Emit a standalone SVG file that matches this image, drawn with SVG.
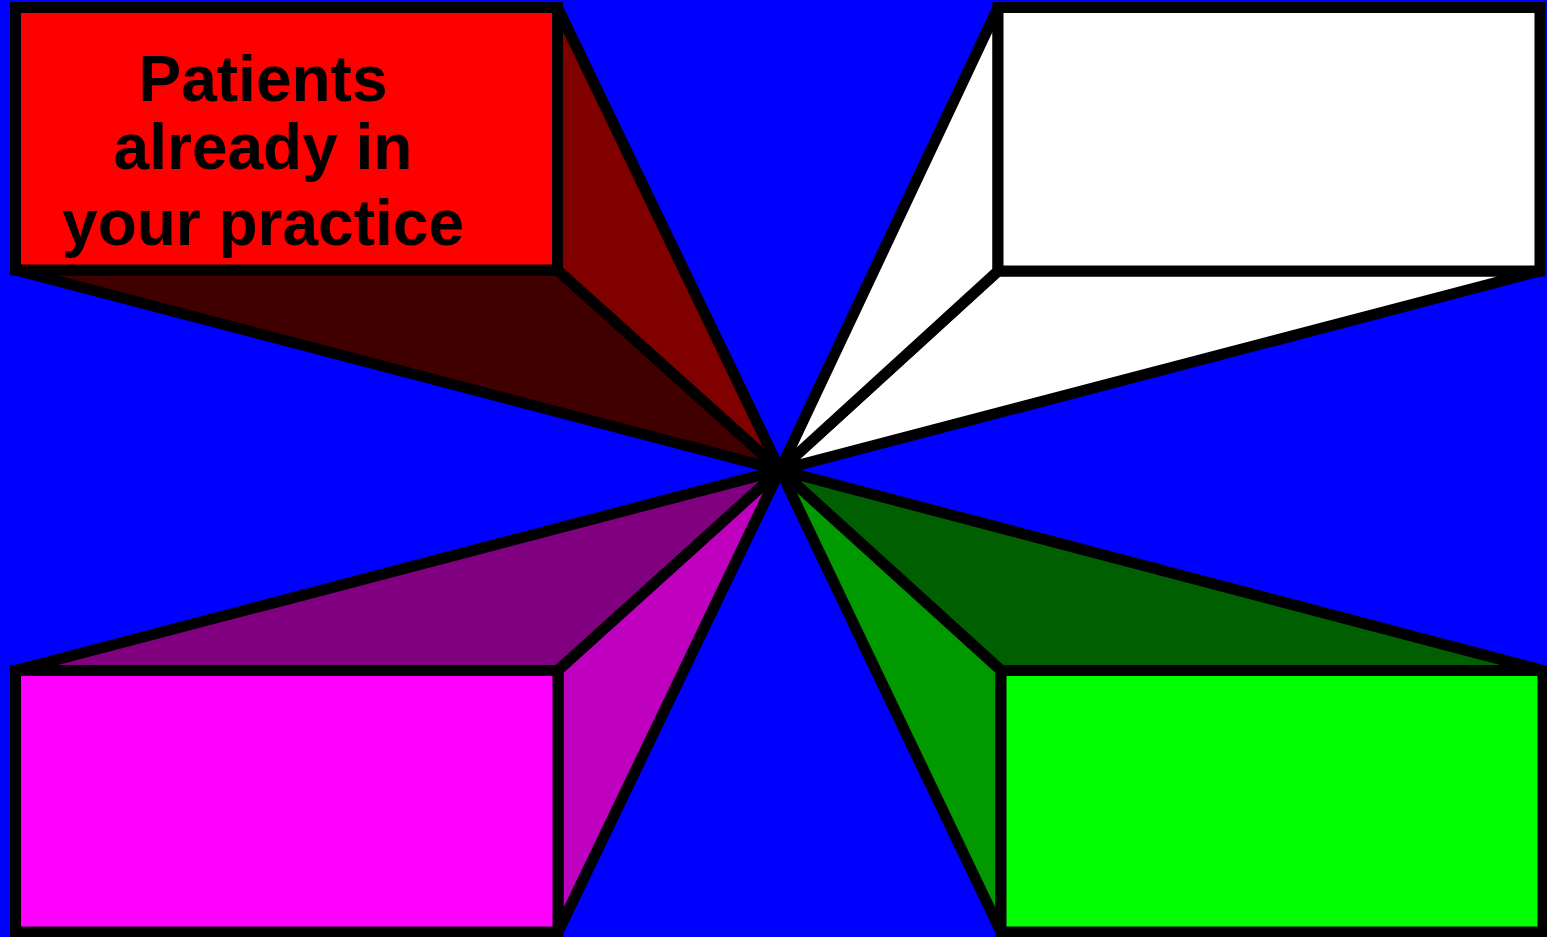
<svg xmlns="http://www.w3.org/2000/svg" width="1547" height="937" viewBox="0 0 1547 937">
<style>
.s{stroke:#000;stroke-width:11;stroke-linejoin:miter}
.t{font-family:"Liberation Sans",Arial,sans-serif;font-weight:bold;font-size:64px;fill:#000;text-anchor:middle}
</style>
<rect width="1547" height="937" fill="#0000FF"/>
<g id="connectors"></g>
<g id="node-red">
<polygon class="s" fill="#400000" points="15.5,270 557.5,270 780,470"/>
<polygon class="s" fill="#800000" points="557.5,7.5 780,470 557.5,270"/>
<rect class="s" fill="#FF0000" x="15.5" y="7.5" width="542" height="262.5"/>
<text class="t" x="263" y="101">Patients</text>
<text class="t" x="263" y="169">already in</text>
<text class="t" x="263" y="245">your practice</text>
</g>
<g id="node-white">
<polygon class="s" fill="#FFFFFF" points="998,271 1540,271 780,470"/>
<polygon class="s" fill="#FFFFFF" points="998,7.5 780,470 998,271"/>
<rect class="s" fill="#FFFFFF" x="998" y="7.5" width="542" height="263.5"/>
</g>
<g id="node-magenta">
<polygon class="s" fill="#800080" points="15.5,670.5 558,670.5 780,470"/>
<polygon class="s" fill="#BF00BF" points="558,670.5 558,932 780,470"/>
<rect class="s" fill="#FF00FF" x="15.5" y="670.5" width="542.5" height="261.5"/>
</g>
<g id="node-green">
<polygon class="s" fill="#005F00" points="1001,670.5 1543,670.5 780,470"/>
<polygon class="s" fill="#009900" points="1001,670.5 1001,932 780,470"/>
<rect class="s" fill="#00FF00" x="1001" y="670.5" width="542" height="261.5"/>
</g>
</svg>
